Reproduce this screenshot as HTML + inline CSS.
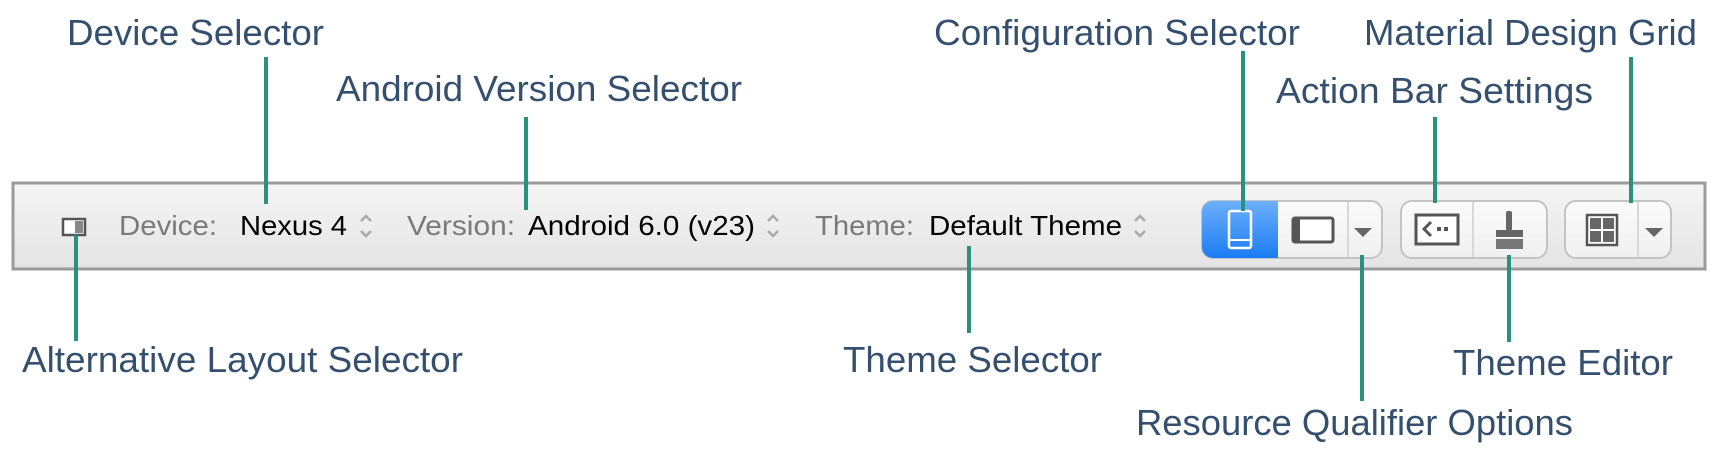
<!DOCTYPE html>
<html><head><meta charset="utf-8"><style>
html,body{margin:0;padding:0;background:#fff;width:1720px;height:456px;overflow:hidden}
svg{display:block}
.lb{font-family:"Liberation Sans",sans-serif;font-size:36px;fill:#34506e}
.g{font-family:"Liberation Sans",sans-serif;font-size:28px;fill:#7a7a7a}
.k{font-family:"Liberation Sans",sans-serif;font-size:28px;fill:#000}
.ln{stroke:#2a9080;stroke-width:4}
</style></head><body>
<svg width="1720" height="456" viewBox="0 0 1720 456" xmlns="http://www.w3.org/2000/svg">
<defs>
<linearGradient id="tb" x1="0" y1="0" x2="0" y2="1"><stop offset="0" stop-color="#f5f5f5"/><stop offset="1" stop-color="#e4e4e4"/></linearGradient>
<linearGradient id="bl" x1="0" y1="0" x2="0" y2="1"><stop offset="0" stop-color="#6cb0fc"/><stop offset="1" stop-color="#1c7cf4"/></linearGradient>
<linearGradient id="bt" x1="0" y1="0" x2="0" y2="1"><stop offset="0" stop-color="#fbfbfb"/><stop offset="1" stop-color="#f0f0f0"/></linearGradient>
<clipPath id="c1"><rect x="1202" y="201" width="180" height="57" rx="11"/></clipPath>
</defs>
<!-- toolbar -->
<rect x="13" y="183" width="1692" height="86" fill="url(#tb)" stroke="#9b9b9b" stroke-width="3"/>
<!-- alt layout icon -->
<rect x="63" y="219" width="22" height="16" fill="#fff" stroke="#555" stroke-width="2.5"/>
<rect x="75" y="221" width="8" height="12" fill="#888"/>
<text class="g" x="119" y="235" textLength="98" lengthAdjust="spacingAndGlyphs">Device:</text>
<text class="k" x="240" y="235" textLength="107" lengthAdjust="spacingAndGlyphs">Nexus 4</text>
<text class="g" x="407" y="235" textLength="108" lengthAdjust="spacingAndGlyphs">Version:</text>
<text class="k" x="528" y="235" textLength="227" lengthAdjust="spacingAndGlyphs">Android 6.0 (v23)</text>
<text class="g" x="815" y="235" textLength="99" lengthAdjust="spacingAndGlyphs">Theme:</text>
<text class="k" x="929" y="235" textLength="193" lengthAdjust="spacingAndGlyphs">Default Theme</text>
<g fill="none" stroke="#aaa" stroke-width="2.5">
<path d="M361 221l5-5 5 5M361 231l5 5 5-5"/>
<path d="M768 221l5-5 5 5M768 231l5 5 5-5"/>
<path d="M1135 221l5-5 5 5M1135 231l5 5 5-5"/>
</g>
<!-- group1 -->
<rect x="1202" y="201" width="180" height="57" rx="11" fill="url(#bt)" stroke="#c4c4c4" stroke-width="2"/>
<rect x="1202" y="201" width="76" height="57" fill="url(#bl)" clip-path="url(#c1)"/>
<line x1="1348" y1="202" x2="1348" y2="257" stroke="#d8d8d8" stroke-width="2"/>
<rect x="1229" y="211" width="22" height="37" rx="2" fill="none" stroke="#fff" stroke-width="2.5"/>
<line x1="1230" y1="240" x2="1250" y2="240" stroke="#fff" stroke-width="2"/>
<rect x="1293" y="218" width="40" height="24" rx="2" fill="#fff" stroke="#555" stroke-width="3"/>
<rect x="1293" y="218" width="7" height="24" fill="#555"/>
<path d="M1354 228h18l-9 9z" fill="#666"/>
<!-- group2 -->
<rect x="1401" y="201" width="146" height="57" rx="11" fill="url(#bt)" stroke="#c4c4c4" stroke-width="2"/>
<line x1="1473" y1="202" x2="1473" y2="257" stroke="#d8d8d8" stroke-width="2"/>
<rect x="1416" y="215" width="42" height="29" fill="#fff" stroke="#555" stroke-width="3"/>
<path d="M1431 222l-7 7 7 7" fill="none" stroke="#555" stroke-width="3"/>
<rect x="1437" y="227" width="4" height="4" fill="#555"/><rect x="1444" y="227" width="4" height="4" fill="#555"/>
<rect x="1506" y="211" width="6" height="20" rx="2" fill="#666"/>
<rect x="1496" y="230" width="27" height="7" fill="#666"/>
<rect x="1496" y="239" width="27" height="10" fill="#777"/>
<!-- group3 -->
<rect x="1565" y="201" width="106" height="57" rx="11" fill="url(#bt)" stroke="#c4c4c4" stroke-width="2"/>
<line x1="1638" y1="202" x2="1638" y2="257" stroke="#d8d8d8" stroke-width="2"/>
<rect x="1587" y="215" width="30" height="30" fill="#fff" stroke="#555" stroke-width="2.5"/>
<rect x="1590" y="218" width="11" height="11" fill="#666"/><rect x="1603" y="218" width="11" height="11" fill="#666"/>
<rect x="1590" y="231" width="11" height="11" fill="#666"/><rect x="1603" y="231" width="11" height="11" fill="#666"/>
<path d="M1645 228h18l-9 9z" fill="#666"/>
<!-- lines -->
<line class="ln" x1="266" y1="57" x2="266" y2="204"/>
<line class="ln" x1="526" y1="117" x2="526" y2="210"/>
<line class="ln" x1="1243" y1="51" x2="1243" y2="211"/>
<line class="ln" x1="1435" y1="117" x2="1435" y2="203"/>
<line class="ln" x1="1631" y1="57" x2="1631" y2="203"/>
<line class="ln" x1="76" y1="235" x2="76" y2="341"/>
<line class="ln" x1="969" y1="246" x2="969" y2="333"/>
<line class="ln" x1="1509" y1="255" x2="1509" y2="342"/>
<line class="ln" x1="1362" y1="255" x2="1362" y2="401"/>
<!-- labels -->
<text class="lb" x="67" y="45" textLength="257" lengthAdjust="spacingAndGlyphs">Device Selector</text>
<text class="lb" x="336" y="101" textLength="406" lengthAdjust="spacingAndGlyphs">Android Version Selector</text>
<text class="lb" x="934" y="45" textLength="366" lengthAdjust="spacingAndGlyphs">Configuration Selector</text>
<text class="lb" x="1364" y="45" textLength="333" lengthAdjust="spacingAndGlyphs">Material Design Grid</text>
<text class="lb" x="1276" y="103" textLength="317" lengthAdjust="spacingAndGlyphs">Action Bar Settings</text>
<text class="lb" x="22" y="372" textLength="441" lengthAdjust="spacingAndGlyphs">Alternative Layout Selector</text>
<text class="lb" x="843" y="372" textLength="259" lengthAdjust="spacingAndGlyphs">Theme Selector</text>
<text class="lb" x="1453" y="375" textLength="220" lengthAdjust="spacingAndGlyphs">Theme Editor</text>
<text class="lb" x="1136" y="435" textLength="437" lengthAdjust="spacingAndGlyphs">Resource Qualifier Options</text>
</svg>
</body></html>
